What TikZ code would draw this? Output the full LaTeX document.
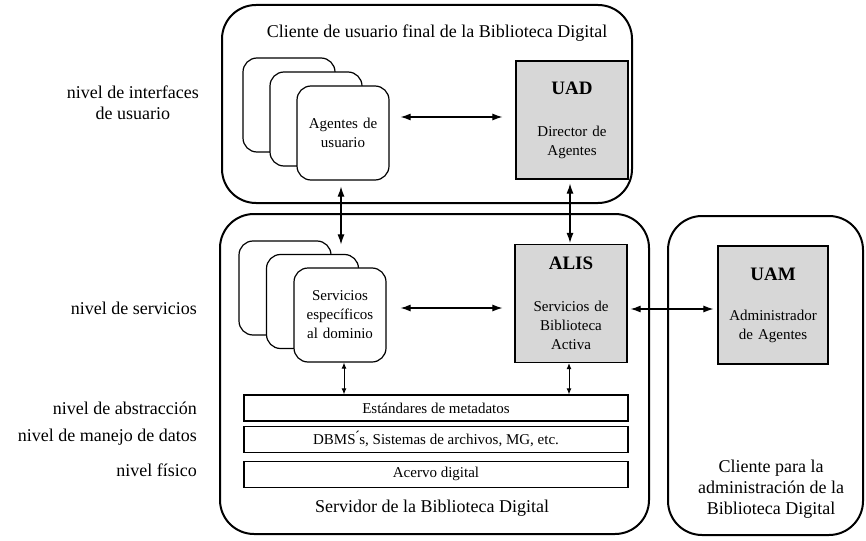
\documentclass[tikz,border=0pt]{standalone}
\usepackage{fontspec}
\setmainfont{Liberation Serif}
\usepackage{xcolor}
\usetikzlibrary{arrows.meta, positioning}

\definecolor{boxgray}{RGB}{215,215,215}
\newcommand{\bigfont}{\fontsize{18}{21}\selectfont}
\newcommand{\smallfont}{\fontsize{15}{19}\selectfont}
\newcommand{\headfont}{\fontsize{19}{22}\selectfont\bfseries}

\begin{document}
\begin{tikzpicture}[
    x=1pt, y=1pt,
    container/.style={draw, line width=2pt, rounded corners=34pt},
    card/.style={draw, fill=white, line width=1.2pt, rounded corners=14pt, minimum width=92pt, minimum height=94pt, text width=84pt, align=center, inner sep=0pt, font=\smallfont},
    agent/.style={draw, fill=boxgray, line width=1.2pt, minimum width=112pt, minimum height=118pt, text width=104pt, align=center, inner sep=0pt, font=\smallfont},
    layer/.style={draw, line width=1.2pt, minimum width=384pt, minimum height=26pt, inner sep=0pt, font=\smallfont},
    level/.style={anchor=east, align=center, inner sep=0pt, font=\bigfont},
    caption/.style={align=center, inner sep=0pt, font=\bigfont},
    biarrow/.style={line width=1.1pt, {Latex[length=10pt,width=7pt]}-{Latex[length=10pt,width=7pt]}},
    smallarrow/.style={line width=1pt, {Latex[length=6pt,width=5pt]}-{Latex[length=6pt,width=5pt]}}
]
\useasboundingbox (0,0) rectangle (866,-540);

% Containers
\node[container, minimum width=410pt, minimum height=198pt] (cliente) at (427,-104) {};
\node[container, minimum width=429pt, minimum height=320pt] (servidor) at (434.5,-374) {};
\node[container, minimum width=195pt, minimum height=319pt] (admin) at (765.5,-375.5) {};

% Captions
\node[caption] (tcliente) at (437,-33) {Cliente de usuario final de la Biblioteca Digital};
\node[caption] (tservidor) at (432,-508) {Servidor de la Biblioteca Digital};
\node[caption] (tadmin) at (771,-489) {Cliente para la\\administraci\'on de la\\Biblioteca Digital};

% User agents (stacked cards)
\node[card] (ag1) at (289,-105) {};
\node[card] (ag2) at (316,-119) {};
\node[card] (ag3) at (343,-133) {Agentes de\\usuario};

% Domain services (stacked cards)
\node[card] (sv1) at (285,-288) {};
\node[card] (sv2) at (312.5,-301.5) {};
\node[card] (sv3) at (340,-315) {Servicios\\espec\'ificos\\al dominio};

% Agent boxes
\node[agent] (uad) at (572,-120) {{\headfont UAD}\\[23pt]Director de\\Agentes};
\node[agent] (alis) at (571,-303.5) {{\headfont ALIS}\\[23pt]Servicios de\\Biblioteca\\Activa};
\node[agent, minimum width=110pt] (uam) at (773,-305) {{\headfont UAM}\\[21pt]Administrador\\de Agentes};

% Layers
\node[layer] (meta) at (436,-408) {Est\'andares de metadatos};
\node[layer, below=4pt of meta] (dbms) {DBMS\'{}s, Sistemas de archivos, MG, etc.};
\node[layer, below=8pt of dbms] (acervo) {Acervo digital};

% Level labels
\node[level] (lvui) at (199,-102.5) {nivel de interfaces\\de usuario};
\node[level] (lvsv) at (197,-308) {nivel de servicios};
\node[level] (lvab) at (197,-408) {nivel de abstracci\'on};
\node[level] (lvdb) at (197,-437) {nivel de manejo de datos};
\node[level] (lvfi) at (197,-470) {nivel f\'isico};

% Arrows
\draw[biarrow, shorten <=11pt, shorten >=13pt] ([yshift=16pt]ag3.east) -- ([yshift=16pt]ag3.east -| uad.west);
\draw[biarrow, shorten <=14pt, shorten >=12pt] ([yshift=7pt]sv3.east) -- ([yshift=7pt]sv3.east -| alis.west);
\draw[biarrow, shorten <=3pt, shorten >=4pt] ([yshift=-5.5pt]alis.east) -- ([yshift=-5.5pt]alis.east -| uam.west);
\draw[biarrow, shorten <=6pt, shorten >=23pt] ([xshift=-2pt]ag3.south) -- ([xshift=-2pt]ag3.south |- sv3.north);
\draw[biarrow, shorten <=4pt, shorten >=1pt] ([xshift=-2pt]uad.south) -- ([xshift=-2pt]uad.south |- alis.north);
\draw[smallarrow] ([xshift=4pt]sv3.south) -- ([xshift=4pt]sv3.south |- meta.north);
\draw[smallarrow] ([xshift=-2pt]alis.south) -- ([xshift=-2pt]alis.south |- meta.north);

\end{tikzpicture}
\end{document}
